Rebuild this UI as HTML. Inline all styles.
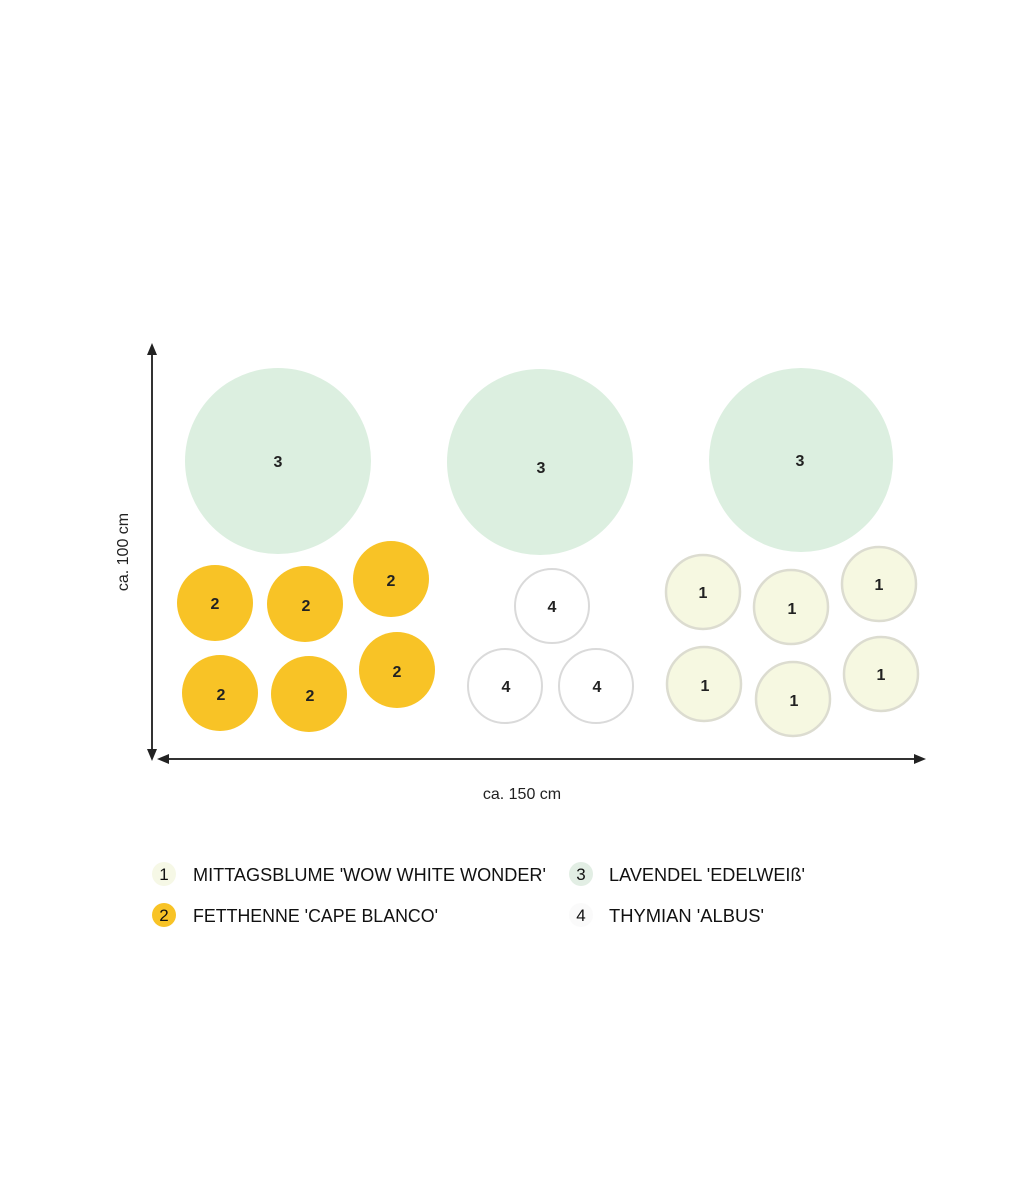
<!DOCTYPE html>
<html><head><meta charset="utf-8"><style>
html,body{margin:0;padding:0;background:#fff;}
svg{display:block;}
text{font-family:"Liberation Sans",sans-serif;}
</style></head><body>
<svg width="1029" height="1200" viewBox="0 0 1029 1200" xmlns="http://www.w3.org/2000/svg">
<g fill="#dcefe0">
<circle cx="278" cy="461" r="93"/>
<circle cx="540" cy="462" r="93"/>
<circle cx="801" cy="460" r="92"/>
</g>
<g fill="#f8c326">
<circle cx="215" cy="603" r="38"/><circle cx="305" cy="604" r="38"/><circle cx="391" cy="579" r="38"/>
<circle cx="220" cy="693" r="38"/><circle cx="309" cy="694" r="38"/><circle cx="397" cy="670" r="38"/>
</g>
<g fill="#fff" stroke="#dadada" stroke-width="2">
<circle cx="552" cy="606" r="37"/><circle cx="505" cy="686" r="37"/><circle cx="596" cy="686" r="37"/>
</g>
<g fill="#f6f8e1" stroke="#dcdcd0" stroke-width="2.5">
<circle cx="703" cy="592" r="37"/><circle cx="791" cy="607" r="37"/><circle cx="879" cy="584" r="37"/>
<circle cx="704" cy="684" r="37"/><circle cx="793" cy="699" r="37"/><circle cx="881" cy="674" r="37"/>
</g>
<g font-size="16" font-weight="bold" fill="#222" text-anchor="middle">
<text x="278" y="467">3</text><text x="541" y="473">3</text><text x="800" y="466">3</text>
<text x="215" y="609">2</text><text x="306" y="611">2</text><text x="391" y="586">2</text>
<text x="221" y="700">2</text><text x="310" y="701">2</text><text x="397" y="677">2</text>
<text x="552" y="612">4</text><text x="506" y="692">4</text><text x="597" y="692">4</text>
<text x="703" y="598">1</text><text x="792" y="614">1</text><text x="879" y="590">1</text>
<text x="705" y="691">1</text><text x="794" y="706">1</text><text x="881" y="680">1</text>
</g>
<g stroke="#333" stroke-width="2" fill="#222">
<line x1="152" y1="352" x2="152" y2="752"/>
<path d="M152 343 L147 355 L157 355 Z" stroke="none"/>
<path d="M152 761 L147 749 L157 749 Z" stroke="none"/>
<line x1="165" y1="759" x2="918" y2="759"/>
<path d="M157 759 L169 754 L169 764 Z" stroke="none"/>
<path d="M926 759 L914 754 L914 764 Z" stroke="none"/>
</g>
<text x="0" y="0" transform="translate(128,552) rotate(-90)" font-size="16" fill="#222" text-anchor="middle">ca. 100 cm</text>
<text x="522" y="799" font-size="16" fill="#222" text-anchor="middle">ca. 150 cm</text>
<circle cx="164" cy="874" r="12" fill="#f6f8e6"/>
<circle cx="164" cy="915" r="12" fill="#f8c326"/>
<circle cx="581" cy="874" r="12" fill="#e2eee4"/>
<circle cx="581" cy="915" r="12" fill="#fafafa"/>
<g font-size="17" fill="#111" text-anchor="middle">
<text x="164" y="880">1</text><text x="164" y="921">2</text><text x="581" y="880">3</text><text x="581" y="921">4</text>
</g>
<g font-size="18" fill="#111">
<text x="193" y="881" textLength="353" lengthAdjust="spacingAndGlyphs">MITTAGSBLUME 'WOW WHITE WONDER'</text>
<text x="193" y="922" textLength="245" lengthAdjust="spacingAndGlyphs">FETTHENNE 'CAPE BLANCO'</text>
<text x="609" y="881" textLength="196" lengthAdjust="spacingAndGlyphs">LAVENDEL 'EDELWEIß'</text>
<text x="609" y="922" textLength="155" lengthAdjust="spacingAndGlyphs">THYMIAN 'ALBUS'</text>
</g>
</svg>
</body></html>
